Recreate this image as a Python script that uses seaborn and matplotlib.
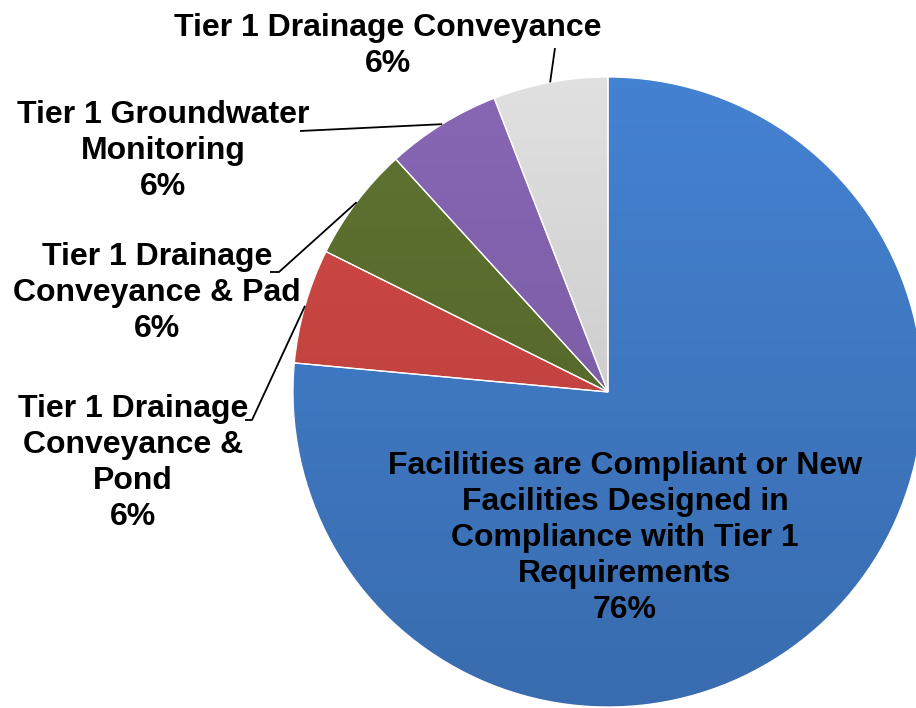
import numpy as np
import matplotlib
matplotlib.use("Agg")
import matplotlib.pyplot as plt
import matplotlib.colors as mcolors
import seaborn as sns

# Slice data (clockwise from 12 o'clock)
categories = [
    "Facilities are Compliant or New\nFacilities Designed in\nCompliance with Tier 1\nRequirements",
    "Tier 1 Drainage\nConveyance &\nPond",
    "Tier 1 Drainage\nConveyance & Pad",
    "Tier 1 Groundwater\nMonitoring",
    "Tier 1 Drainage Conveyance",
]
counts = [13, 1, 1, 1, 1]
pct_labels = ["76%", "6%", "6%", "6%", "6%"]
colors = ["#3F78C2", "#C44440", "#586B2D", "#7E5FA8", "#D0D0D0"]

sns.set_theme(style="white")
plt.rcParams["font.family"] = ["Liberation Sans", "DejaVu Sans"]

W, H = 916, 708
fig = plt.figure(figsize=(W / 100, H / 100), dpi=100)
ax = fig.add_axes([0, 0, 1, 1])

cx, cy, r = 608, H - 392, 315
wedges, _ = ax.pie(
    counts,
    colors=colors,
    startangle=90,
    counterclock=False,
    center=(cx, cy),
    radius=r,
    explode=[0.006, 0, 0, 0, 0],
    wedgeprops=dict(edgecolor="white", linewidth=0.9, zorder=2),
)

# soft vertical shading inside each slice (lighter top, darker bottom)
shade = np.linspace(1.08, 0.90, 256)[:, None]
for w, c in zip(wedges, colors):
    base = np.array(mcolors.to_rgb(c))
    grad = np.clip(base[None, None, :] * shade[:, :, None], 0, 1)
    im = ax.imshow(grad, extent=(cx - r, cx + r, cy - r, cy + r), origin="upper",
                   aspect="auto", zorder=1, interpolation="bilinear")
    im.set_clip_path(w)
    w.set_facecolor("none")

ax.set_xlim(0, W)
ax.set_ylim(0, H)
ax.axis("off")

font = dict(fontsize=23, fontweight="bold", color="black", ha="center", va="center", linespacing=1.27)


def img(x, y):
    return x, H - y


# Labels: (text position in image pixels, leader line start points)
label_pos = [
    (625, 538),
    (133, 463),
    (157, 293),
    (163, 151),
    (388, 46),
]
leader_start = [
    None,
    [(245, 420), (252, 420)],
    [(270, 272), (279, 272)],
    [(300, 131)],
    [(555, 48)],
]

for i, w in enumerate(wedges):
    txt = categories[i] + "\n" + pct_labels[i]
    ax.text(*img(*label_pos[i]), txt, zorder=5, **font)
    if leader_start[i] is None:
        continue
    mid = np.deg2rad((w.theta1 + w.theta2) / 2)
    px, py = cx + r * np.cos(mid), cy + r * np.sin(mid)
    pts = [img(*p) for p in leader_start[i]] + [(px, py)]
    xs, ys = zip(*pts)
    ax.plot(xs, ys, color="black", lw=1.3, solid_capstyle="butt", zorder=4)

fig.savefig("out.png", dpi=100)
